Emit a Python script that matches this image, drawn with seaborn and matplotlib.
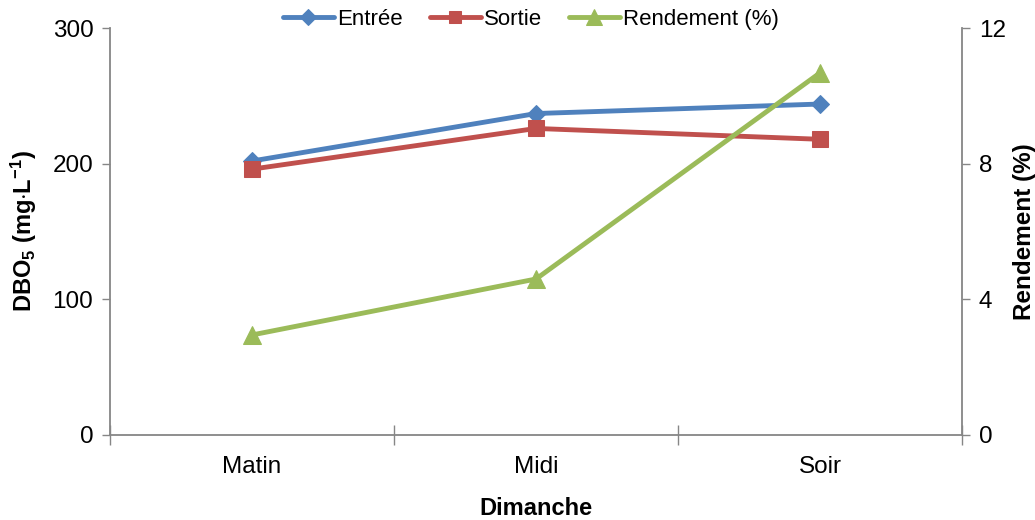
import matplotlib
matplotlib.use("Agg")
import matplotlib.pyplot as plt
import seaborn as sns
import pandas as pd

categories = ["Matin", "Midi", "Soir"]
entree = [202, 237, 244]
sortie = [196, 226, 218]
rendement = [2.95, 4.6, 10.68]
left_ticks = [0, 100, 200, 300]
right_ticks = [0, 4, 8, 12]

sns.set_theme(style="white")
plt.rcParams['font.family'] = ['Liberation Sans', 'DejaVu Sans']
plt.rcParams['mathtext.fontset'] = 'custom'
plt.rcParams['mathtext.rm'] = 'Liberation Sans:bold'
plt.rcParams['mathtext.it'] = 'Liberation Sans:bold'
plt.rcParams['mathtext.bf'] = 'Liberation Sans:bold'
plt.rcParams['text.color'] = 'black'
plt.rcParams['axes.labelcolor'] = 'black'
plt.rcParams['xtick.color'] = 'black'
plt.rcParams['ytick.color'] = 'black'

blue = "#4F81BD"
red = "#C0504D"
green = "#9BBB59"
grey = "#868686"

pos = list(range(len(categories)))
df = pd.DataFrame({"pos": pos, "Entrée": entree, "Sortie": sortie, "Rendement (%)": rendement})

fig = plt.figure(figsize=(10.35, 5.2), dpi=100)
ax = fig.add_axes([0.1063, 0.1635, 0.8232, 0.7825])
ax2 = ax.twinx()

sns.lineplot(data=df, x="pos", y="Entrée", ax=ax, color=blue, lw=3.5, marker="D",
             markersize=9, markeredgecolor=blue, label="Entrée", legend=False)
sns.lineplot(data=df, x="pos", y="Sortie", ax=ax, color=red, lw=3.5, marker="s",
             markersize=11, markeredgecolor=red, label="Sortie", legend=False)
sns.lineplot(data=df, x="pos", y="Rendement (%)", ax=ax2, color=green, lw=3.5, marker="^",
             markersize=13, markeredgecolor=green, label="Rendement (%)", legend=False)

tfs = 17.5
ax.set_xlim(-0.5, len(categories) - 0.5)
ax.set_ylim(0, 300)
ax2.set_ylim(0, 12)
ax.set_yticks(left_ticks)
ax2.set_yticks(right_ticks)
ax.set_yticklabels([str(t) for t in left_ticks], fontsize=tfs)
ax2.set_yticklabels([str(t) for t in right_ticks], fontsize=tfs)

ax.set_xticks([p - 0.5 for p in pos] + [len(pos) - 0.5])
ax.set_xticklabels([])
ax.set_xticks(pos, minor=True)
ax.set_xticklabels(categories, minor=True, fontsize=tfs)
ax.tick_params(axis='x', which='major', direction='inout', length=14, width=1,
               color=grey, bottom=True)
ax.tick_params(axis='x', which='minor', length=0, pad=15, bottom=True)
ax.tick_params(axis='y', which='major', direction='out', length=6, width=1, color=grey, left=True, pad=6)
ax2.tick_params(axis='y', which='major', direction='out', length=6, width=1, color=grey, right=True, pad=6)

for a in (ax, ax2):
    a.spines['top'].set_visible(False)
    for s in ('left', 'right', 'bottom'):
        a.spines[s].set_color(grey)
        a.spines[s].set_linewidth(1.3)
ax.spines['right'].set_visible(False)
ax2.spines['left'].set_visible(False)
ax2.spines['bottom'].set_visible(False)

ax.set_xlabel("Dimanche", fontsize=17, fontweight='bold', labelpad=14)
ax.set_ylabel(r"DBO$_5$ (mg$\cdot$L$^{-1}$)", fontsize=17, fontweight='bold', labelpad=10)
ax2.set_ylabel("Rendement (%)", fontsize=17.5, fontweight='bold', labelpad=5)

h1, l1 = ax.get_legend_handles_labels()
h2, l2 = ax2.get_legend_handles_labels()
fig.legend(h1 + h2, l1 + l2, loc='center', bbox_to_anchor=(0.513, 0.963), ncol=3,
           frameon=False, fontsize=16, handlelength=2.3, handletextpad=0.15,
           columnspacing=1.2, markerscale=0.85)

fig.savefig("out.png", dpi=100)
